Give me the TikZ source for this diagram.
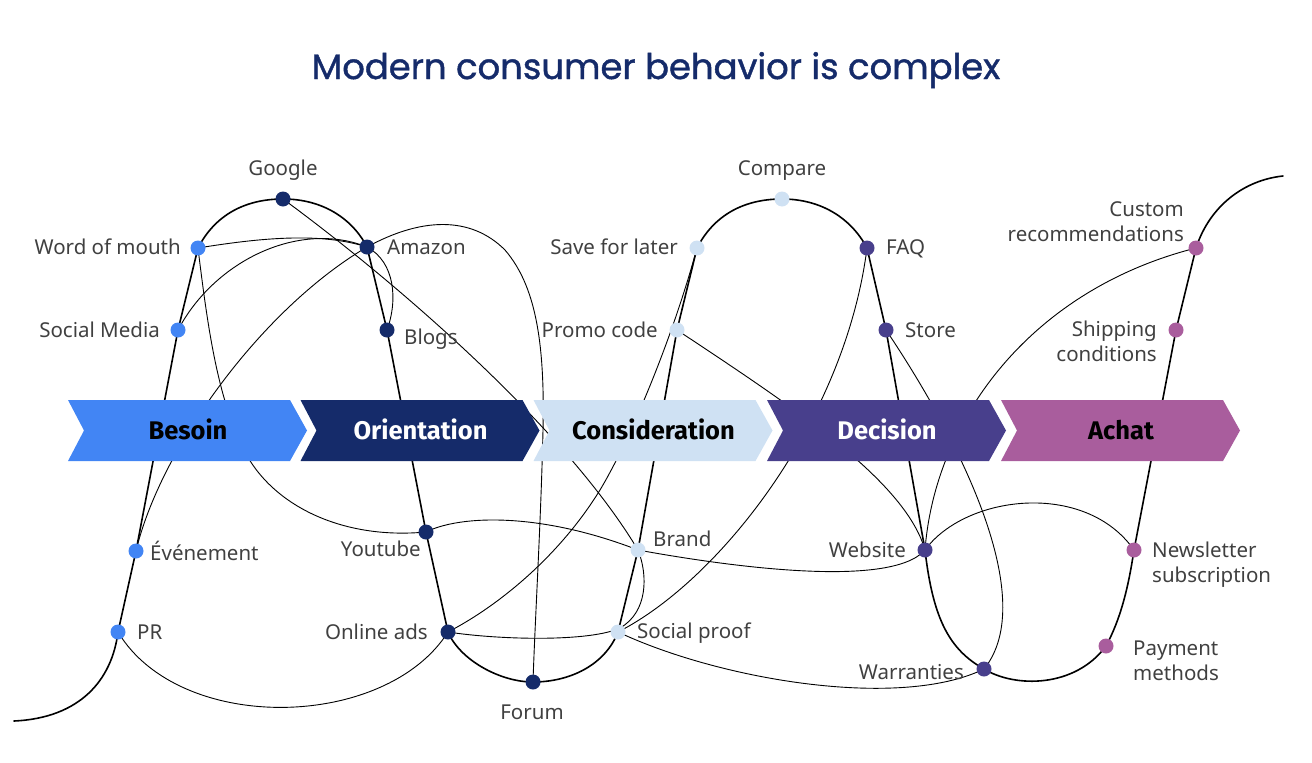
\documentclass[tikz,border=0pt]{standalone}
\usepackage{fontspec}
\setmainfont{Noto Sans}
\newfontfamily\titlefont{Poppins}[FakeBold=1.2]
\newfontfamily\stagefont{Fira Sans}
\definecolor{cblue}{HTML}{4285F4}
\definecolor{cnavy}{HTML}{152B6A}
\definecolor{clight}{HTML}{CFE1F3}
\definecolor{cpurple}{HTML}{483F8C}
\definecolor{cpink}{HTML}{A95D9D}
\definecolor{ctext}{HTML}{404040}
\pgfdeclarelayer{bg}
\pgfsetlayers{bg,main}
\tikzset{
  dot/.style={circle, inner sep=0pt, minimum size=15pt, fill=#1},
  lbl/.style={text=ctext, font=\fontsize{20.5}{24.5}\selectfont, inner sep=0pt},
  stagetxt/.style={font=\stagefont\bfseries\fontsize{25.5}{28}\selectfont, inner sep=0pt, anchor=base},
  mainline/.style={line width=1.6pt, black, line join=round, line cap=round},
  thinline/.style={line width=0.9pt, black, line cap=round},
}
\begin{document}
\begin{tikzpicture}[x=1pt,y=1pt]
\useasboundingbox (0,0) rectangle (1312,-763);
% title
\node[font=\titlefont\fontsize{35.4}{40}\selectfont, text=cnavy, anchor=base, inner sep=0pt] (title) at (656,-79) {Modern consumer behavior is complex};
% stages
\foreach \x/\c in {68/cblue,300.5/cnavy,533.5/clight,767/cpurple,1001/cpink}
  \fill[\c] (\x,-400) -- ++(222,0) -- ++(17,-30.5) -- ++(-17,-30.5) -- ++(-222,0) -- ++(16,30.5) -- cycle;
\node[stagetxt, text=black] (sbesoin) at (188,-439) {Besoin};
\node[stagetxt, text=white] (sorient) at (420.5,-439) {Orientation};
\node[stagetxt, text=black] (sconsid) at (653.5,-439) {Consideration};
\node[stagetxt, text=white] (sdecis) at (887,-439) {Decision};
\node[stagetxt, text=black] (sachat) at (1121,-439) {Achat};
% dots
\node[dot=cnavy] (go) at (283,-199) {};
\node[dot=cblue] (wom) at (198,-248) {};
\node[dot=cnavy] (amz) at (367,-247) {};
\node[dot=cblue] (sm) at (178,-330) {};
\node[dot=cnavy] (blg) at (387,-330) {};
\node[dot=cblue] (ev) at (136,-551) {};
\node[dot=cblue] (pr) at (118,-632) {};
\node[dot=cnavy] (yt) at (426,-532) {};
\node[dot=cnavy] (oa) at (448,-632) {};
\node[dot=cnavy] (fo) at (533,-682) {};
\node[dot=clight] (sfl) at (697,-248) {};
\node[dot=clight] (cmp) at (782,-199) {};
\node[dot=clight] (pc) at (677,-330) {};
\node[dot=clight] (br) at (638,-550) {};
\node[dot=clight] (sp) at (618,-632) {};
\node[dot=cpurple] (faq) at (867,-248) {};
\node[dot=cpurple] (st) at (886,-330) {};
\node[dot=cpurple] (ws) at (925,-550) {};
\node[dot=cpurple] (wa) at (984,-669) {};
\node[dot=cpink] (cr) at (1196,-248) {};
\node[dot=cpink] (sc) at (1176,-330) {};
\node[dot=cpink] (nl) at (1134,-550) {};
\node[dot=cpink] (pm) at (1106,-646) {};
\coordinate (startpt) at (14,-721);
\coordinate (endpt) at (1283,-176);
% labels
\node[lbl, anchor=base] (lgo) at (283,-175) {Google};
\node[lbl, anchor=base east] (lwom) at (181,-254) {Word of mouth};
\node[lbl, anchor=base west] (lamz) at (387,-254) {Amazon};
\node[lbl, anchor=base east] (lsm) at (160,-337) {Social Media};
\node[lbl, anchor=base west] (lblg) at (404,-344) {Blogs};
\node[lbl, anchor=base west] (lev) at (150,-560) {Événement};
\node[lbl, anchor=base west] (lpr) at (137,-639) {PR};
\node[lbl, anchor=base east] (lyt) at (421,-556) {Youtube};
\node[lbl, anchor=base east] (loa) at (428,-639) {Online ads};
\node[lbl, anchor=base] (lfo) at (532,-719) {Forum};
\node[lbl, anchor=base east] (lsfl) at (678,-254) {Save for later};
\node[lbl, anchor=base] (lcmp) at (782,-175) {Compare};
\node[lbl, anchor=base east] (lpc) at (658,-337) {Promo code};
\node[lbl, anchor=base west] (lfaq) at (886,-254) {FAQ};
\node[lbl, anchor=base west] (lst) at (905,-337) {Store};
\node[lbl, anchor=base west] (lbr) at (653,-546) {Brand};
\node[lbl, anchor=base west] (lsp) at (637,-638) {Social proof};
\node[lbl, anchor=base east] (lws) at (906,-557) {Website};
\node[lbl, anchor=base east] (lwa) at (964,-679) {Warranties};
\node[lbl, anchor=base east, align=right] (lcr) at (1184,-241) {Custom\\recommendations};
\node[lbl, anchor=base east, align=right] (lsc) at (1157,-361) {Shipping\\conditions};
\node[lbl, anchor=base west, align=left] (lnl) at (1152,-582) {Newsletter\\subscription};
\node[lbl, anchor=base west, align=left] (lpm) at (1133,-680) {Payment\\methods};
% connectors
\begin{pgfonlayer}{bg}
\draw[mainline] (startpt) .. controls (80,-718) and (112,-680) .. (pr.center) -- (ev.center) -- (sm.center) -- (wom.center)
  .. controls (215,-215) and (245,-199) .. (go.center) .. controls (322,-199) and (352,-218) .. (amz.center)
  -- (blg.center) -- (yt.center) -- (oa.center)
  .. controls (460,-660) and (500,-682) .. (fo.center) .. controls (570,-682) and (605,-665) .. (sp.center)
  -- (br.center) -- (pc.center) -- (sfl.center)
  .. controls (714,-215) and (744,-199) .. (cmp.center) .. controls (821,-199) and (851,-218) .. (faq.center)
  -- (st.center) -- (ws.center)
  .. controls (933,-620) and (950,-650) .. (wa.center) .. controls (1015,-688) and (1075,-688) .. (pm.center)
  .. controls (1120,-620) and (1128,-590) .. (nl.center) -- (sc.center) -- (cr.center)
  .. controls (1210,-205) and (1245,-180) .. (endpt);
\draw[thinline] (wom.center) .. controls (260,-238) and (320,-232) .. (amz.center);
\draw[thinline] (sm.center) .. controls (215,-260) and (300,-220) .. (amz.center) .. controls (395,-262) and (398,-300) .. (blg.center);
\draw[thinline] (ev.center) .. controls (160,-450) and (260,-310) .. (amz.center) .. controls (420,-218) and (470,-215) .. (505,-250)
  .. controls (535,-285) and (545,-340) .. (543,-430) .. controls (541,-520) and (535,-620) .. (fo.center);
\draw[thinline] (wom.center) .. controls (208,-330) and (218,-400) .. (245,-452) .. controls (272,-504) and (340,-540) .. (yt.center)
  .. controls (460,-515) and (540,-512) .. (br.center) .. controls (720,-565) and (890,-590) .. (ws.center)
  .. controls (965,-495) and (1085,-480) .. (nl.center);
\draw[thinline] (go.center) .. controls (380,-270) and (560,-420) .. (br.center) .. controls (648,-575) and (648,-612) .. (620,-628)
  .. controls (590,-642) and (500,-640) .. (oa.center);
\draw[thinline] (pr.center) .. controls (180,-735) and (386,-730) .. (oa.center);
\draw[thinline] (oa.center) .. controls (500,-605) and (560,-555) .. (600,-490) .. controls (630,-440) and (672,-340) .. (sfl.center);
\draw[thinline] (sp.center) .. controls (720,-580) and (845,-420) .. (faq.center);
\draw[thinline] (sp.center) .. controls (720,-680) and (900,-710) .. (wa.center);
\draw[thinline] (pc.center) .. controls (790,-405) and (905,-480) .. (ws.center) .. controls (935,-420) and (1030,-290) .. (cr.center);
\draw[thinline] (st.center) .. controls (960,-440) and (1040,-600) .. (wa.center);
\end{pgfonlayer}
\end{tikzpicture}
\end{document}
